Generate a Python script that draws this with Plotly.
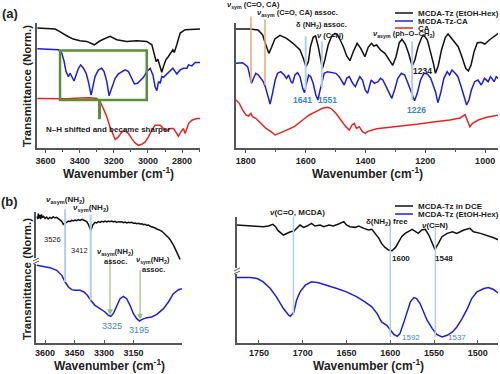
import plotly.graph_objects as go

# ---------------- Panel (a) left : 3650-2700 cm-1 ----------------
a1_black_wn = [3648, 3593, 3544, 3519, 3495, 3466, 3437, 3398, 3359, 3314, 3280, 3241, 3222, 3183, 3124, 3065, 3007,
               2977, 2964, 2952, 2942, 2928, 2919, 2909, 2895, 2880, 2866, 2854, 2846, 2838, 2831, 2811, 2782, 2694]
a1_black_T = [358, 357, 355, 348, 340, 332, 325, 320, 318, 308, 320, 328, 333, 323, 318, 320, 318,
              308, 278, 258, 265, 243, 226, 243, 263, 273, 283, 293, 285, 295, 308, 343, 353, 355]

a1_blue_wn = [3648, 3525, 3505, 3491, 3480, 3466, 3456, 3447, 3433, 3421, 3407, 3394, 3378, 3362, 3349, 3333, 3323,
              3310, 3290, 3271, 3257, 3241, 3228, 3212, 3192, 3173, 3153, 3134, 3114, 3095, 3079, 3061, 3046, 3026,
              3007, 2987, 2971, 2958, 2948, 2938, 2928, 2919, 2909, 2895, 2880, 2866, 2854, 2840, 2831, 2811, 2792,
              2772, 2762, 2743, 2723, 2694]
a1_blue_T = [296, 293, 283, 258, 228, 213, 223, 213, 200, 218, 238, 248, 238, 223, 198, 158, 178,
             213, 233, 238, 228, 198, 156, 178, 208, 221, 228, 233, 228, 208, 191, 193, 200, 211,
             228, 238, 218, 183, 171, 198, 193, 213, 211, 218, 228, 233, 238, 228, 221, 233, 238,
             238, 248, 245, 255, 255]

a1_red_wn = [3648, 3574, 3476, 3398, 3339, 3300, 3280, 3261, 3241, 3222, 3202, 3192, 3173, 3153, 3134, 3114, 3095,
             3075, 3056, 3036, 3016, 2997, 2977, 2958, 2928, 2909, 2889, 2870, 2850, 2835, 2821, 2807, 2792, 2782,
             2772, 2762, 2743, 2713, 2694]
a1_red_T = [148, 147, 147, 149, 150, 148, 138, 118, 93, 63, 35, 25, 33, 48, 51, 43, 28,
            15, 8, 11, 18, 33, 53, 68, 68, 58, 51, 58, 58, 48, 35, 48, 58, 43,
            58, 73, 83, 88, 88]

# ---------------- Panel (a) right : 1830-960 cm-1 ----------------
a2_black_wn = [1833, 1787, 1759, 1744, 1733, 1723, 1714, 1703, 1686, 1664, 1642, 1619, 1608, 1599, 1591, 1584, 1575,
               1567, 1558, 1550, 1544, 1536, 1525, 1513, 1502, 1494, 1486, 1474, 1463, 1452, 1441, 1428, 1416, 1402,
               1391, 1380, 1372, 1363, 1350, 1335, 1321, 1309, 1298, 1287, 1278, 1267, 1256, 1244, 1235, 1224, 1212,
               1205, 1193, 1182, 1173, 1166, 1157, 1146, 1133, 1124, 1113, 1101, 1090, 1076, 1065, 1056, 1047, 1037,
               1026, 1014, 1001, 986, 970, 956]
a2_black_T = [357, 357, 354, 339, 309, 284, 302, 327, 338, 329, 314, 294, 269, 244, 259, 304, 332,
              336, 304, 264, 239, 264, 309, 336, 344, 339, 327, 304, 276, 262, 289, 314, 299, 274,
              302, 314, 306, 309, 294, 284, 266, 248, 274, 316, 326, 312, 284, 246, 264, 304, 332,
              338, 324, 289, 254, 224, 246, 294, 332, 342, 329, 316, 304, 269, 239, 231, 249, 289,
              316, 317, 312, 324, 336, 344]

a2_blue_wn = [1833, 1811, 1794, 1787, 1781, 1772, 1767, 1758, 1750, 1742, 1735, 1728, 1719, 1711, 1702, 1694, 1683,
              1672, 1664, 1657, 1649, 1644, 1636, 1627, 1619, 1610, 1604, 1597, 1590, 1583, 1575, 1566, 1559, 1553,
              1546, 1538, 1527, 1510, 1499, 1488, 1479, 1471, 1463, 1454, 1443, 1434, 1427, 1419, 1410, 1401, 1393,
              1381, 1370, 1358, 1350, 1342, 1331, 1319, 1312, 1303, 1292, 1280, 1269, 1260, 1253, 1247, 1236, 1227,
              1216, 1205, 1193, 1182, 1175, 1166, 1158, 1149, 1138, 1127, 1119, 1111, 1100, 1091, 1080, 1069, 1062,
              1054, 1046, 1035, 1024, 1013, 1002, 990, 982, 970, 963, 951]
a2_blue_T = [254, 256, 244, 214, 194, 214, 224, 219, 209, 199, 184, 159, 132, 164, 204, 224, 229,
             219, 209, 219, 199, 194, 219, 226, 214, 179, 166, 194, 219, 214, 194, 159, 144, 169,
             199, 224, 229, 226, 224, 214, 199, 189, 209, 214, 194, 184, 199, 214, 204, 174, 164,
             204, 194, 199, 209, 204, 184, 159, 149, 174, 209, 224, 219, 199, 184, 169, 142, 164,
             204, 224, 222, 209, 194, 169, 136, 164, 209, 229, 219, 234, 224, 214, 184, 149, 129,
             144, 174, 199, 204, 189, 209, 199, 214, 199, 214, 204]

a2_red_wn = [1833, 1822, 1811, 1800, 1791, 1783, 1778, 1767, 1750, 1733, 1716, 1702, 1689, 1666, 1638, 1610, 1588,
             1566, 1544, 1527, 1516, 1499, 1482, 1466, 1454, 1445, 1438, 1430, 1421, 1410, 1401, 1392, 1363, 1318,
             1274, 1229, 1173, 1118, 1084, 1067, 1060, 1051, 1042, 1023, 995, 951]
a2_red_T = [144, 134, 114, 99, 96, 104, 94, 89, 74, 59, 49, 39, 44, 54, 64, 84, 99,
            109, 119, 122, 119, 104, 84, 64, 54, 69, 74, 59, 64, 49, 44, 50, 58, 62,
            67, 71, 78, 84, 90, 100, 84, 64, 74, 84, 92, 99]

# ---------------- Panel (b) left : 3645-2905 cm-1 ----------------
b1_black_wn = [3640, 3637, 3634, 3630, 3626, 3622, 3618, 3614, 3608, 3600, 3592, 3584, 3575, 3566, 3558, 3550, 3541,
               3532, 3524, 3515, 3507, 3498, 3490, 3481, 3473, 3464, 3456, 3447, 3439, 3430, 3422, 3413, 3405, 3396,
               3388, 3380, 3375, 3368, 3362, 3358, 3352, 3346, 3338, 3329, 3320, 3312, 3303, 3295, 3286, 3278, 3270,
               3261, 3253, 3244, 3236, 3227, 3219, 3210, 3202, 3193, 3185, 3176, 3168, 3159, 3151, 3142, 3134, 3125,
               3117, 3108, 3100, 3091, 3083, 3074, 3066, 3057, 3049, 3040, 3032, 3023, 3015, 3006, 2998, 2989, 2981,
               2972, 2964, 2956, 2947, 2939, 2930, 2925, 2914]
b1_black_T = [380, 372, 388, 374, 384, 372, 386, 376, 380, 374, 378, 372, 377, 374, 379, 375, 377,
              372, 370, 365, 356, 360, 361, 366, 364, 368, 366, 369, 367, 370, 368, 371, 369, 366,
              364, 356, 346, 338, 346, 354, 358, 362, 360, 364, 362, 365, 363, 366, 363, 366, 364,
              366, 363, 365, 362, 364, 363, 364, 361, 363, 360, 362, 361, 362, 359, 360, 358, 359,
              357, 358, 355, 356, 353, 354, 350, 349, 346, 345, 342, 341, 338, 335, 331, 326, 322,
              316, 310, 303, 293, 283, 273, 266, 251]

b1_blue_wn = [3642, 3608, 3575, 3541, 3515, 3498, 3481, 3464, 3447, 3422, 3402, 3385, 3368, 3346, 3320, 3295, 3278,
              3266, 3253, 3236, 3219, 3202, 3185, 3168, 3151, 3134, 3120, 3109, 3083, 3058, 3032, 2998, 2973, 2948,
              2922, 2905]
b1_blue_T = [233, 230, 226, 218, 203, 183, 168, 160, 158, 158, 153, 143, 128, 113, 103, 93, 83,
             80, 88, 113, 133, 140, 133, 113, 88, 73, 66, 70, 76, 78, 86, 103, 123, 148,
             160, 163]

# ---------------- Panel (b) right : 1775-1477 cm-1 ----------------
b2_black_wn = [1775, 1760, 1752, 1745, 1739, 1734, 1731, 1728, 1722, 1718, 1714, 1710, 1707, 1703, 1699, 1695, 1690,
               1686, 1680, 1676, 1670, 1665, 1659, 1653, 1650, 1646, 1640, 1636, 1630, 1625, 1621, 1617, 1613, 1610,
               1606, 1602, 1598, 1594, 1590, 1587, 1583, 1579, 1575, 1571, 1568, 1564, 1560, 1556, 1552, 1549, 1545,
               1541, 1535, 1529, 1524, 1516, 1509, 1505, 1497, 1490, 1482, 1476]
b2_black_T = [353, 351, 350, 348, 350, 355, 348, 336, 323, 328, 333, 335, 343, 353, 346, 350, 358,
              350, 353, 348, 353, 350, 356, 363, 353, 348, 346, 350, 343, 338, 340, 328, 313, 298,
              286, 278, 276, 286, 303, 318, 328, 333, 340, 333, 328, 338, 340, 323, 298, 280, 298,
              318, 328, 333, 328, 338, 343, 333, 328, 323, 315, 308]

b2_blue_wn = [1775, 1760, 1752, 1745, 1737, 1730, 1722, 1716, 1714, 1710, 1707, 1703, 1697, 1690, 1682, 1672, 1661,
              1650, 1638, 1629, 1621, 1615, 1610, 1604, 1600, 1596, 1592, 1589, 1585, 1581, 1577, 1573, 1570, 1566,
              1562, 1558, 1552, 1547, 1541, 1535, 1529, 1524, 1518, 1512, 1507, 1501, 1493, 1488, 1482, 1476]
b2_blue_T = [196, 196, 193, 183, 163, 138, 103, 83, 80, 93, 128, 153, 173, 183, 180, 173, 163,
             153, 138, 123, 108, 88, 63, 53, 38, 26, 20, 28, 58, 93, 123, 136, 133, 118,
             93, 68, 43, 26, 18, 23, 33, 48, 73, 103, 133, 153, 163, 166, 160, 148]

# Marker lines (wavenumber, from, to)
a2_orange_wn = [1783, 1736]
a2_blue_lines = [(1600, 339, 174), (1546, 324, 183), (1244, 324, 144)]
b1_blue_lines = [(3498, 406, 183), (3368, 390, 128)]
b1_green_arrows = [(3270, 258, 83), (3117, 223, 70)]
b2_lines = [(1710.5, 383, 82), (1600, 368, 18), (1548.5, 363, 18)]
a1_box = (3515, 3007, 143, 291)

BLACK = "#111111"
BLUE = "#1f1fd6"
RED = "#e3262a"
LBLUE = "#b3cfe8"
ORANGE = "#eaa67c"
GREEN = "#5b8f38"
LGREEN = "#9cc27a"
NUMBLUE = "#3f86c4"
AXC = "#555555"
FONT = "Liberation Sans"

fig = go.Figure()


def add(wn, T, color, n):
    fig.add_trace(go.Scatter(x=wn, y=T, mode="lines", line=dict(color=color, width=1.5),
                             xaxis="x" + n, yaxis="y" + n, showlegend=False, hoverinfo="skip"))


add(a1_black_wn, a1_black_T, BLACK, "")
add(a1_blue_wn, a1_blue_T, BLUE, "")
add(a1_red_wn, a1_red_T, RED, "")
add(a2_black_wn, a2_black_T, BLACK, "2")
add(a2_blue_wn, a2_blue_T, BLUE, "2")
add(a2_red_wn, a2_red_T, RED, "2")
add(b1_black_wn, b1_black_T, BLACK, "3")
add(b1_blue_wn, b1_blue_T, BLUE, "3")
add(b2_black_wn, b2_black_T, BLACK, "4")
add(b2_blue_wn, b2_blue_T, BLUE, "4")


def P(x, y):
    return x / 500.0, 1 - y / 374.0


def xax(domain, rng, vals, minor=None, top=True):
    d = dict(domain=domain, range=rng, tickvals=vals, ticktext=[str(v) for v in vals],
             showgrid=False, zeroline=False, showline=True, linecolor=AXC, linewidth=1.5,
             ticks="outside" if top else "inside", ticklen=3, tickwidth=1, tickcolor=AXC,
             tickfont=dict(family=FONT, size=9, color="#222222", weight="bold"),
             ticklabelstandoff=0 if top else 0)
    if minor:
        d["minor"] = dict(tickvals=minor, ticks="outside", ticklen=2, tickcolor=AXC)
    return d


def yax(domain, rng, anchor):
    return dict(domain=domain, range=rng, anchor=anchor, showgrid=False, zeroline=False,
                showticklabels=False, ticks="", showline=True, linecolor=AXC, linewidth=1.5)


top_y = [1 - 148 / 374, 1 - 23 / 374]
fig.update_layout(
    width=500, height=374, margin=dict(l=0, r=0, t=0, b=0),
    paper_bgcolor="white", plot_bgcolor="white",
    xaxis=dict(xax([37 / 500, 200 / 500], [3650, 2695], [3600, 3400, 3200, 3000, 2800],
                   [3500, 3300, 3100, 2900, 2700]), anchor="y"),
    yaxis=yax(top_y, [0, 373], "x"),
    xaxis2=dict(xax([236 / 500, 498 / 500], [1833, 957], [1800, 1600, 1400, 1200, 1000],
                    [1700, 1500, 1300, 1100]), anchor="y2"),
    yaxis2=yax(top_y, [0, 375], "x2"),
    xaxis3=dict(xax([36 / 500, 182 / 500], [3646, 2904], [3600, 3450, 3300, 3150], None, False), anchor="y3"),
    yaxis3=yax([1 - 343 / 374, 1 - 212 / 374], [0, 393], "x3"),
    xaxis4=dict(xax([237 / 500, 498 / 500], [1775, 1477], [1750, 1700, 1650, 1600, 1550, 1500], None, False),
                anchor="y4"),
    yaxis4=yax([1 - 343 / 374, 1 - 217 / 374], [0, 377], "x4"),
)

# green box and tick in panel (a) left
fig.add_shape(type="rect", xref="x", yref="y", x0=a1_box[0], x1=a1_box[1], y0=a1_box[2], y1=a1_box[3],
              line=dict(color=GREEN, width=2.5))
fig.add_shape(type="line", xref="x", yref="y", x0=3284, x1=3284, y0=a1_box[2], y1=86,
              line=dict(color=GREEN, width=3))


def vline(n, wn, y0, y1, color, width=1.5, head=0):
    fig.add_annotation(x=wn, y=y1, ax=wn, ay=y0, xref="x" + n, yref="y" + n, axref="x" + n, ayref="y" + n,
                       text="", showarrow=True, arrowhead=head, arrowsize=1, arrowwidth=width, arrowcolor=color)


vline("2", a2_orange_wn[0], 399, 194, ORANGE)
vline("2", a2_orange_wn[1], 390, 189, ORANGE)
for wn, t0, t1 in a2_blue_lines:
    vline("2", wn, t0, t1, LBLUE, 2)
for wn, t0, t1 in b1_blue_lines:
    vline("3", wn, t0, t1, LBLUE, 2)
for wn, t0, t1 in b1_green_arrows:
    vline("3", wn, t0, t1, LGREEN, 1.2, 2)
for wn, t0, t1 in b2_lines:
    vline("4", wn, t0, t1, LBLUE, 1.5)


def txt(s, x, y, size=8, color="#222222", bold=True, anchor="center", angle=0):
    px, py = P(x, y)
    fig.add_annotation(x=px, y=py, xref="paper", yref="paper", text=("<b>%s</b>" % s) if bold else s,
                       showarrow=False, xanchor=anchor, yanchor="middle", textangle=angle,
                       font=dict(family=FONT, size=size, color=color))


NU = "<i>ν</i>"
txt("(a)", 10, 13, 13)
txt("(b)", 9, 201, 13)
txt("Transmittance (Norm.)", 27, 86, 11.5, angle=-90)
txt("Transmittance (Norm.)", 27, 279, 11.5, angle=-90)
WN = "Wavenumber (cm<sup>-1</sup>)"
txt(WN, 118, 173, 12)
txt(WN, 367, 173, 12)
txt(WN, 109, 365, 12)
txt(WN, 368, 365, 12)

txt("N–H shifted and became sharper", 108, 129, 8)

txt(NU + "<sub>sym</sub> (C=O, CA)", 253, 5, 7.5)
txt(NU + "<sub>asym</sub> (C=O, CA) assoc.", 297, 13, 7.5)
txt("δ (NH<sub>2</sub>) assoc.", 321, 25, 7.5)
txt(NU + " (C=N)", 330, 35, 7.5)
txt(NU + "<sub>asym</sub> (ph–O–CH<sub>2</sub>)", 404, 34, 7.5)
txt("1234", 422, 71, 8.5)
txt("1641", 302, 100, 8.5, NUMBLUE)
txt("1551", 327, 100, 8.5, NUMBLUE)
txt("1226", 416, 110, 8.5, NUMBLUE)

txt(NU + "<sub>asym</sub>(NH<sub>2</sub>)", 65, 200, 8)
txt(NU + "<sub>sym</sub>(NH<sub>2</sub>)", 91, 208, 8)
txt("3526", 52, 239, 7.5, bold=False)
txt("3412", 79, 250, 7.5, bold=False)
txt(NU + "<sub>asym</sub>(NH<sub>2</sub>)", 115, 252, 7.5)
txt("assoc.", 115, 261, 7.5)
txt(NU + "<sub>sym</sub>(NH<sub>2</sub>)", 153, 260, 7.5)
txt("assoc.", 153, 269, 7.5)
txt("3325", 112, 326, 9, NUMBLUE, bold=False)
txt("3195", 139, 330, 9, NUMBLUE, bold=False)

txt(NU + "(C=O, MCDA)", 297, 212, 8)
txt("δ(NH<sub>2</sub>) free", 387, 222, 8)
txt(NU + "(C=N)", 435, 225, 8)
txt("1600", 401, 258, 8)
txt("1548", 444, 258, 8)
txt("1592", 411, 337, 8, NUMBLUE, bold=False)
txt("1537", 457, 337, 8, NUMBLUE, bold=False)

# manual legends
legend_a = [("MCDA-Tz (EtOH-Hex)", BLACK, 13), ("MCDA-Tz-CA", BLUE, 21), ("CA", RED, 28)]
legend_b = [("MCDA-Tz in DCE", BLACK, 206), ("MCDA-Tz (EtOH-Hex)", BLUE, 214)]
for name, col, yy in legend_a + legend_b:
    x0, y0 = P(395, yy)
    x1, _ = P(413, yy)
    fig.add_shape(type="line", xref="paper", yref="paper", x0=x0, x1=x1, y0=y0, y1=y0,
                  line=dict(color=col, width=1.5))
    txt(name, 416, yy + 0.5, 8, anchor="left")

# axis break marks
for bx, by in [(36, 261), (237, 271)]:
    x0, y0 = P(bx - 2, by - 3)
    x1, y1 = P(bx + 2, by + 3)
    fig.add_shape(type="rect", xref="paper", yref="paper", x0=x0, x1=x1, y0=y0, y1=y1,
                  fillcolor="white", line=dict(width=0))
    for dy in (-1.5, 1.5):
        a0, b0 = P(bx - 3, by + dy + 1.5)
        a1, b1 = P(bx + 3, by + dy - 1.5)
        fig.add_shape(type="line", xref="paper", yref="paper", x0=a0, x1=a1, y0=b0, y1=b1,
                      line=dict(color=AXC, width=1))

fig.write_html("out.html", config={"displayModeBar": False},
               post_script="document.body.style.margin='0px';")
